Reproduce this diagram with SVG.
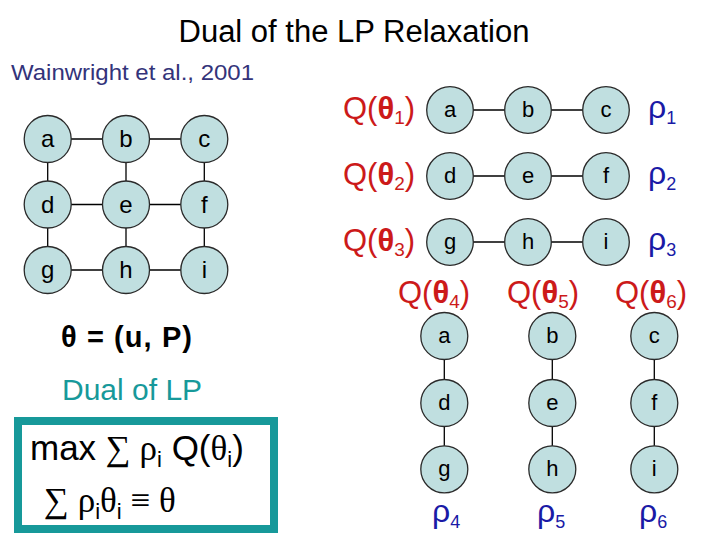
<svg xmlns="http://www.w3.org/2000/svg" width="720" height="540" viewBox="0 0 720 540">
<style>
.nd{fill:#c0dfe0;stroke:#2a2a2a;stroke-width:1.3}
.lb{font-family:"Liberation Sans",Arial,sans-serif;fill:#000;text-anchor:middle}
.l1{font-size:24px}
.l2{font-size:22px}
.ed line{stroke:#000;stroke-width:1.3}
.q{font-family:"Liberation Sans",Arial,sans-serif;font-size:31px;fill:#cc1a1a}
.q .t{font-weight:bold}
.q .s{font-size:19px}
.r{font-family:"Liberation Sans",Arial,sans-serif;font-size:32px;fill:#1a1aa6}
.r .s{font-size:18px}
</style>
<rect width="720" height="540" fill="#fff"/>
<text x="354" y="42" font-family="Liberation Sans,Arial,sans-serif" font-size="31" text-anchor="middle" fill="#000">Dual of the LP Relaxation</text>
<text x="11" y="80" font-family="Liberation Sans,Arial,sans-serif" font-size="22" fill="#33337a" textLength="243" lengthAdjust="spacingAndGlyphs">Wainwright et al., 2001</text>

<g id="connectors" class="ed">
<line x1="47.7" y1="139" x2="204.3" y2="139"/>
<line x1="47.7" y1="204.5" x2="204.3" y2="204.5"/>
<line x1="47.7" y1="270" x2="204.3" y2="270"/>
<line x1="47.7" y1="139" x2="47.7" y2="270"/>
<line x1="126" y1="139" x2="126" y2="270"/>
<line x1="204.3" y1="139" x2="204.3" y2="270"/>
<line x1="450" y1="110" x2="606" y2="110"/>
<line x1="450" y1="176" x2="606" y2="176"/>
<line x1="450" y1="242" x2="606" y2="242"/>
<line x1="444.3" y1="336" x2="444.3" y2="469.3"/>
<line x1="552.3" y1="336" x2="552.3" y2="469.3"/>
<line x1="654.3" y1="336" x2="654.3" y2="469.3"/>
</g>

<g id="grid-a"><circle class="nd" cx="47.7" cy="139" r="23.5"/><text class="lb l1" x="47.7" y="147">a</text></g>
<g id="grid-b"><circle class="nd" cx="126" cy="139" r="23.5"/><text class="lb l1" x="126" y="147">b</text></g>
<g id="grid-c"><circle class="nd" cx="204.3" cy="139" r="23.5"/><text class="lb l1" x="204.3" y="147">c</text></g>
<g id="grid-d"><circle class="nd" cx="47.7" cy="204.5" r="23.5"/><text class="lb l1" x="47.7" y="212.5">d</text></g>
<g id="grid-e"><circle class="nd" cx="126" cy="204.5" r="23.5"/><text class="lb l1" x="126" y="212.5">e</text></g>
<g id="grid-f"><circle class="nd" cx="204.3" cy="204.5" r="23.5"/><text class="lb l1" x="204.3" y="212.5">f</text></g>
<g id="grid-g"><circle class="nd" cx="47.7" cy="270" r="23.5"/><text class="lb l1" x="47.7" y="278">g</text></g>
<g id="grid-h"><circle class="nd" cx="126" cy="270" r="23.5"/><text class="lb l1" x="126" y="278">h</text></g>
<g id="grid-i"><circle class="nd" cx="204.3" cy="270" r="23.5"/><text class="lb l1" x="204.3" y="278">i</text></g>

<g id="row-a"><circle class="nd" cx="450" cy="110" r="23.3"/><text class="lb l2" x="450" y="117">a</text></g>
<g id="row-b"><circle class="nd" cx="528" cy="110" r="23.3"/><text class="lb l2" x="528" y="117">b</text></g>
<g id="row-c"><circle class="nd" cx="606" cy="110" r="23.3"/><text class="lb l2" x="606" y="117">c</text></g>
<g id="row-d"><circle class="nd" cx="450" cy="176" r="23.3"/><text class="lb l2" x="450" y="183">d</text></g>
<g id="row-e"><circle class="nd" cx="528" cy="176" r="23.3"/><text class="lb l2" x="528" y="183">e</text></g>
<g id="row-f"><circle class="nd" cx="606" cy="176" r="23.3"/><text class="lb l2" x="606" y="183">f</text></g>
<g id="row-g"><circle class="nd" cx="450" cy="242" r="23.3"/><text class="lb l2" x="450" y="249">g</text></g>
<g id="row-h"><circle class="nd" cx="528" cy="242" r="23.3"/><text class="lb l2" x="528" y="249">h</text></g>
<g id="row-i"><circle class="nd" cx="606" cy="242" r="23.3"/><text class="lb l2" x="606" y="249">i</text></g>

<g id="col-a"><circle class="nd" cx="444.3" cy="336" r="23.5"/><text class="lb l2" x="444.3" y="343">a</text></g>
<g id="col-b"><circle class="nd" cx="552.3" cy="336" r="23.5"/><text class="lb l2" x="552.3" y="343">b</text></g>
<g id="col-c"><circle class="nd" cx="654.3" cy="336" r="23.5"/><text class="lb l2" x="654.3" y="343">c</text></g>
<g id="col-d"><circle class="nd" cx="444.3" cy="403" r="23.5"/><text class="lb l2" x="444.3" y="410">d</text></g>
<g id="col-e"><circle class="nd" cx="552.3" cy="403" r="23.5"/><text class="lb l2" x="552.3" y="410">e</text></g>
<g id="col-f"><circle class="nd" cx="654.3" cy="403" r="23.5"/><text class="lb l2" x="654.3" y="410">f</text></g>
<g id="col-g"><circle class="nd" cx="444.3" cy="469.3" r="23.5"/><text class="lb l2" x="444.3" y="476.3">g</text></g>
<g id="col-h"><circle class="nd" cx="552.3" cy="469.3" r="23.5"/><text class="lb l2" x="552.3" y="476.3">h</text></g>
<g id="col-i"><circle class="nd" cx="654.3" cy="469.3" r="23.5"/><text class="lb l2" x="654.3" y="476.3">i</text></g>

<g id="q-labels">
<text class="q" x="343" y="119">Q(<tspan class="t">θ</tspan><tspan class="s" dy="5">1</tspan><tspan dy="-5">)</tspan></text>
<text class="q" x="343" y="185">Q(<tspan class="t">θ</tspan><tspan class="s" dy="5">2</tspan><tspan dy="-5">)</tspan></text>
<text class="q" x="343" y="251">Q(<tspan class="t">θ</tspan><tspan class="s" dy="5">3</tspan><tspan dy="-5">)</tspan></text>
<text class="q" x="398" y="303">Q(<tspan class="t">θ</tspan><tspan class="s" dy="5">4</tspan><tspan dy="-5">)</tspan></text>
<text class="q" x="507" y="303">Q(<tspan class="t">θ</tspan><tspan class="s" dy="5">5</tspan><tspan dy="-5">)</tspan></text>
<text class="q" x="615" y="303">Q(<tspan class="t">θ</tspan><tspan class="s" dy="5">6</tspan><tspan dy="-5">)</tspan></text>
</g>

<g id="rho-labels">
<text class="r" x="648" y="118">ρ<tspan class="s" dy="6">1</tspan></text>
<text class="r" x="648" y="184">ρ<tspan class="s" dy="6">2</tspan></text>
<text class="r" x="648" y="250">ρ<tspan class="s" dy="6">3</tspan></text>
<text class="r" x="432" y="522">ρ<tspan class="s" dy="6">4</tspan></text>
<text class="r" x="537" y="522">ρ<tspan class="s" dy="6">5</tspan></text>
<text class="r" x="639" y="522">ρ<tspan class="s" dy="6">6</tspan></text>
</g>

<text x="61" y="347" font-family="Liberation Sans,Arial,sans-serif" font-size="29" font-weight="bold" fill="#000" textLength="131" lengthAdjust="spacing">θ = (u, P)</text>
<text x="62" y="400" font-family="Liberation Sans,Arial,sans-serif" font-size="30" fill="#17999a">Dual of LP</text>

<g id="dual-box">
<rect x="18" y="421" width="256" height="108" fill="none" stroke="#17999a" stroke-width="8"/>
<text x="30" y="460" font-family="Liberation Sans,Arial,sans-serif" font-size="35" fill="#000">max <tspan font-family="Liberation Serif,serif">∑ ρ</tspan><tspan font-size="22" dy="7">i</tspan><tspan dy="-7"> Q(</tspan><tspan font-family="Liberation Serif,serif">θ</tspan><tspan font-size="22" dy="7">i</tspan><tspan dy="-7">)</tspan></text>
<text x="44" y="512" font-family="Liberation Serif,serif" font-size="35" fill="#000">∑ ρ<tspan font-family="Liberation Sans,Arial,sans-serif" font-size="22" dy="7">i</tspan><tspan dy="-7">θ</tspan><tspan font-family="Liberation Sans,Arial,sans-serif" font-size="22" dy="7">i</tspan><tspan dy="-7"> ≡ θ</tspan></text>
</g>
</svg>
